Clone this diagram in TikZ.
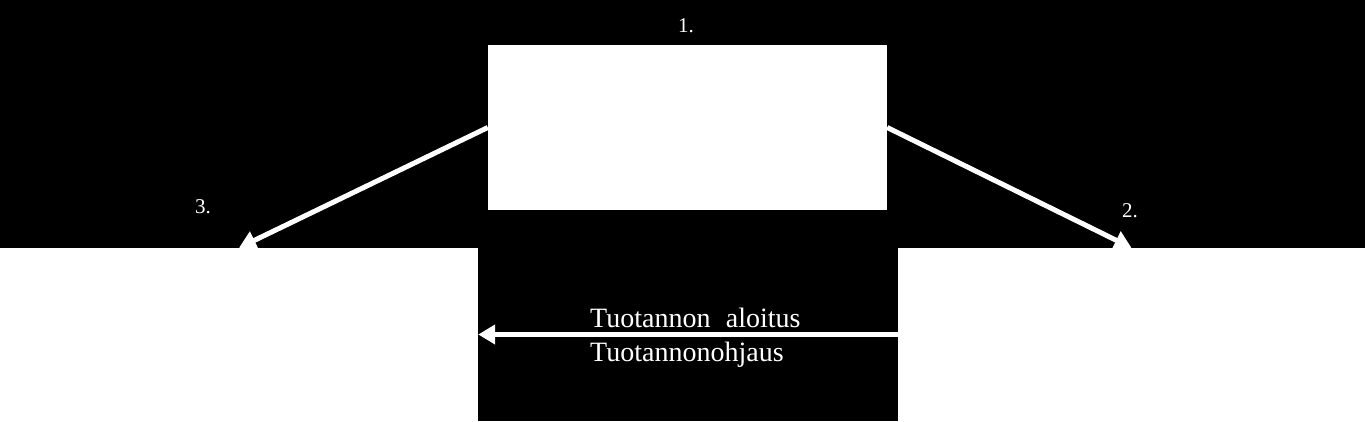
\documentclass[tikz,border=0pt]{standalone}
\usepackage{fontspec}
\setmainfont{Liberation Serif}
\usetikzlibrary{arrows.meta}
\begin{document}
\begin{tikzpicture}[x=1pt,y=-1pt,>={Triangle[length=17pt,width=19pt]},
  laatikko/.style={fill=white,draw=none,inner sep=0pt},
  nuoli/.style={->,white,line width=5pt},
  teksti/.style={text=white,inner sep=0pt,font=\fontsize{28}{30}\selectfont},
  numero/.style={text=white,inner sep=0pt,font=\fontsize{21}{24}\selectfont}]
  % Tausta
  \fill[black] (0,0) rectangle (1365,422);
  \useasboundingbox (0,0) rectangle (1365,422);

  % Laatikot
  \node[laatikko,minimum width=399pt,minimum height=165pt] (yla) at (687.5,127.5) {};
  \node[laatikko,minimum width=478pt,minimum height=173pt] (vasen) at (239,334.5) {};
  \node[laatikko,minimum width=467pt,minimum height=173pt] (oikea) at (1131.5,334.5) {};
  \draw[white,line width=1pt] (0,421.5) -- (1365,421.5);

  % Numerot
  \node[numero] (n1) at (686,26) {1.};
  \node[numero] (n2) at (1130,211) {2.};
  \node[numero] (n3) at (203,207) {3.};

  % Nuolet
  \draw[nuoli] (yla.west) -- (vasen.north);
  \draw[nuoli] (yla.east) -- (oikea.north);
  \draw[nuoli] (oikea.west) -- (vasen.east);

  % Tekstit
  \node[teksti,anchor=west] (aloitus) at (590,318) {Tuotannon\hspace{0.55em}aloitus};
  \node[teksti,anchor=west] (ohjaus) at (590,355) {Tuotannonohjaus};
\end{tikzpicture}
\end{document}
